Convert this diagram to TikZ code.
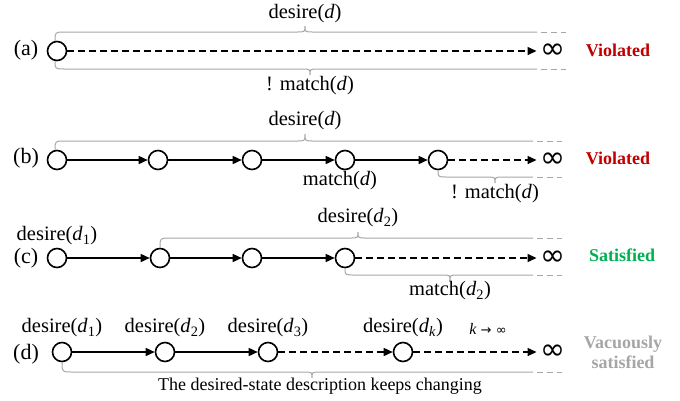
\documentclass[tikz,border=0pt]{standalone}
\usepackage{fontspec}
\setmainfont{Liberation Serif}
\newfontfamily\symfont{DejaVu Sans}
\usetikzlibrary{arrows.meta}
\definecolor{bracegray}{HTML}{A6A6A6}
\definecolor{vred}{HTML}{C00000}
\definecolor{sgreen}{HTML}{00B050}
\definecolor{vgray}{HTML}{A6A6A6}
\newcommand\dsub[1]{\textit{d}\textsubscript{#1}}
\tikzset{
 st/.style={circle, draw, line width=1.6pt, minimum size=19pt, inner sep=0pt, fill=white},
 conn/.style={line width=1.5pt, -{Triangle[length=9pt,width=8pt]}},
 dconn/.style={conn, dash pattern=on 6.5pt off 4.5pt},
 br/.style={draw=bracegray, line width=1pt},
 brd/.style={draw=bracegray, line width=1pt, dash pattern=on 6pt off 4pt},
 lab/.style={font=\fontsize{20.5}{20.5}\selectfont, inner sep=1pt},
 fl/.style={font=\fontsize{22}{22}\selectfont, inner sep=1pt},
 inf/.style={font=\symfont\fontsize{30}{30}\selectfont, inner sep=0pt, outer sep=4pt},
 res/.style={font=\fontsize{18}{20}\selectfont\bfseries, align=center},
}
\begin{document}
\begin{tikzpicture}[x=1pt,y=-1pt]
\path[use as bounding box] (0,0) rectangle (680,400);

% ---------- (a)
\node[fl] (la) at (26,50) {(a)};
\node[st] (a1) at (57,51) {};
\node[inf] (ainf) at (553,51) {∞};
\draw[dconn] (a1) -- (ainf);
\node[res, text=vred] (ra) at (618,50) {Violated};
\draw[br] (55,41) .. controls (55,32) .. (65,32) -- (297,32) .. controls (305,32) .. (305,26) .. controls (305,32) .. (313,32) -- (537,32);
\draw[brd] (541,32) -- (566,32);
\node[lab] (ta) at (305,14) {desire(\textit{d})};
\draw[br] (55,61) .. controls (55,69) .. (65,69) -- (302,69) .. controls (310,69) .. (310,75) .. controls (310,69) .. (318,69) -- (537,69);
\draw[brd] (541,69) -- (566,69);
\node[lab] (ba) at (310,86) {! match(\textit{d})};

% ---------- (b)
\node[fl] (lb) at (26,158) {(b)};
\node[st] (b1) at (57,160) {};
\node[st] (b2) at (158,160) {};
\node[st] (b3) at (252,160) {};
\node[st] (b4) at (345,160) {};
\node[st] (b5) at (438,160) {};
\node[inf] (binf) at (553,160) {∞};
\draw[conn] (b1) -- (b2);
\draw[conn] (b2) -- (b3);
\draw[conn] (b3) -- (b4);
\draw[conn] (b4) -- (b5);
\draw[dconn] (b5) -- (binf);
\node[res, text=vred] (rb) at (618,158) {Violated};
\draw[br] (55,150) .. controls (55,141) .. (65,141) -- (297,141) .. controls (305,141) .. (305,134) .. controls (305,141) .. (313,141) -- (533,141);
\draw[brd] (537,141) -- (562,141);
\node[lab] (tb) at (305,121) {desire(\textit{d})};
\node[lab] (mb) at (340,181) {match(\textit{d})};
\draw[br] (438,170) .. controls (438,177) .. (447,177) -- (487,177) .. controls (495,177) .. (495,183) .. controls (495,177) .. (503,177) -- (533,177);
\draw[brd] (537,177) -- (562,177);
\node[lab] (bb) at (495,194) {! match(\textit{d})};

% ---------- (c)
\node[fl] (lc) at (26,258) {(c)};
\node[st] (c1) at (57,258) {};
\node[st] (c2) at (160,258) {};
\node[st] (c3) at (252,258) {};
\node[st] (c4) at (345,258) {};
\node[inf] (cinf) at (553,258) {∞};
\draw[conn] (c1) -- (c2);
\draw[conn] (c2) -- (c3);
\draw[conn] (c3) -- (c4);
\draw[dconn] (c4) -- (cinf);
\node[res, text=sgreen] (rc) at (622,255) {Satisfied};
\node[lab] (tc1) at (57,236) {desire(\dsub{1})};
\draw[br] (160,248) .. controls (160,238) .. (170,238) -- (350,238) .. controls (358,238) .. (358,232) .. controls (358,238) .. (366,238) -- (533,238);
\draw[brd] (537,238) -- (562,238);
\node[lab] (tc2) at (358,218) {desire(\dsub{2})};
\draw[br] (345,268) .. controls (345,275) .. (354,275) -- (442,275) .. controls (450,275) .. (450,281) .. controls (450,275) .. (458,275) -- (533,275);
\draw[brd] (537,275) -- (562,275);
\node[lab] (bc) at (450,291) {match(\dsub{2})};

% ---------- (d)
\node[fl] (ld) at (26,354) {(d)};
\node[st] (d1) at (62,352) {};
\node[st] (d2) at (165,352) {};
\node[st] (d3) at (268,352) {};
\node[st] (d4) at (403,352) {};
\node[inf] (dinf) at (553,352) {∞};
\draw[conn] (d1) -- (d2);
\draw[conn] (d2) -- (d3);
\draw[dconn] (d3) -- (d4);
\draw[dconn] (d4) -- (dinf);
\node[res, text=vgray] (rd) at (623,352) {Vacuously\\satisfied};
\node[lab] (td1) at (62,328) {desire(\dsub{1})};
\node[lab] (td2) at (165,328) {desire(\dsub{2})};
\node[lab] (td3) at (268,328) {desire(\dsub{3})};
\node[lab] (td4) at (403,328) {desire(\dsub{\textit{k}})};
\node[font=\fontsize{16}{16}\selectfont] (kk) at (488,329) {\textit{k} {\symfont\fontsize{13}{13}\selectfont→ ∞}};
\draw[br] (62,362) .. controls (62,372) .. (72,372) -- (304,372) .. controls (312,372) .. (312,378) .. controls (312,372) .. (320,372) -- (533,372);
\draw[brd] (537,372) -- (562,372);
\node[font=\fontsize{18}{18}\selectfont] (bd) at (320,386) {The desired-state description keeps changing};
\end{tikzpicture}
\end{document}
